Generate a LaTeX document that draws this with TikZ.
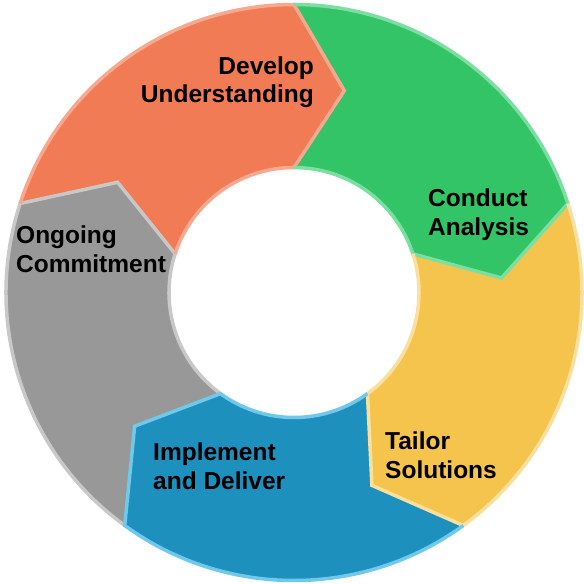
\documentclass[tikz,border=0pt]{standalone}
\usepackage{fontspec}
\setmainfont{Liberation Sans}
\definecolor{orfill}{RGB}{241,123,84}
\definecolor{orline}{RGB}{247,168,142}
\definecolor{grfill}{RGB}{52,196,104}
\definecolor{grline}{RGB}{124,222,160}
\definecolor{yefill}{RGB}{245,196,76}
\definecolor{yeline}{RGB}{250,224,160}
\definecolor{blfill}{RGB}{30,144,190}
\definecolor{blline}{RGB}{112,200,234}
\definecolor{gyfill}{RGB}{152,152,152}
\definecolor{gyline}{RGB}{200,200,200}
\newcommand{\Ro}{288}
\newcommand{\Ri}{125}
\newcommand{\Rm}{208}
% fill of one segment: #1 ccw angle, #2 cw angle
\newcommand{\segfill}[3]{%
  \fill[#3] (#1:\Ro pt) arc[start angle=#1, end angle=#2, radius=\Ro pt]
    -- (#2-14:\Rm pt) -- (#2:\Ri pt)
    arc[start angle=#2, end angle=#1, radius=\Ri pt]
    -- (#1-14:\Rm pt) -- cycle;}
\newcommand{\segline}[3]{%
  \draw[seglinestyle,#3] (#1:\Ro pt) arc[start angle=#1, end angle=#2, radius=\Ro pt]
    -- (#2-14:\Rm pt) -- (#2:\Ri pt)
    arc[start angle=#2, end angle=#1, radius=\Ri pt];}
\tikzset{
  seglinestyle/.style={line width=3.5pt, line join=miter, line cap=butt},
  lbl/.style={font=\bfseries\fontsize{24.5}{29}\selectfont, inner sep=0pt, text=black}
}
\begin{document}
\begin{tikzpicture}
\useasboundingbox (-294pt,-291.5pt) rectangle (290pt,292.5pt);
\segfill{234}{162}{gyfill}
\segfill{162}{90}{orfill}
\segfill{90}{18}{grfill}
\segfill{18}{-54}{yefill}
\segfill{-54}{-126}{blfill}
\segline{234}{162}{gyline}
\segline{162}{90}{orline}
\segline{90}{18}{grline}
\segline{18}{-54}{yeline}
\segline{-54}{-126}{blline}
\node[lbl, anchor=base east, align=right] (dev) at (20pt,189.5pt) {Develop\\Understanding};
\node[lbl, anchor=base west, align=left] (con) at (134pt,57.5pt) {Conduct\\Analysis};
\node[lbl, anchor=base west, align=left] (tai) at (91pt,-185.5pt) {Tailor\\Solutions};
\node[lbl, anchor=base west, align=left] (imp) at (-141pt,-196.5pt) {Implement\\and Deliver};
\node[lbl, anchor=base west, align=left] (ong) at (-278pt,20.5pt) {Ongoing\\Commitment};
\end{tikzpicture}
\end{document}
